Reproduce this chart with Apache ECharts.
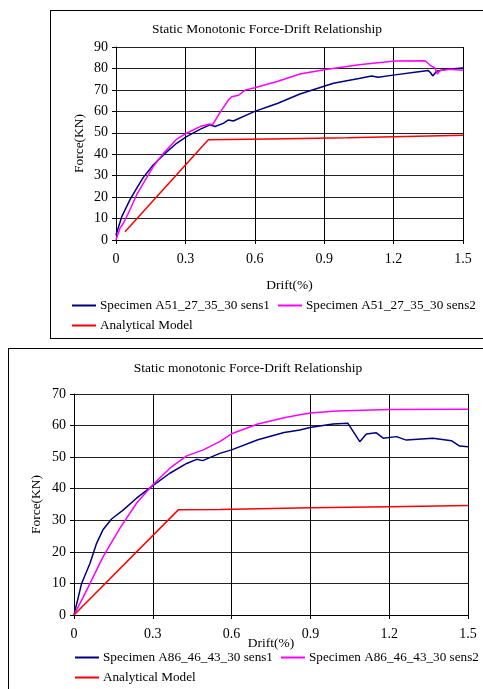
<!DOCTYPE html>
<html>
<head>
<meta charset="utf-8">
<script src="https://cdn.jsdelivr.net/npm/echarts@6/dist/echarts.min.js"></script>
<style>
  html, body { margin: 0; padding: 0; background: #fff; width: 483px; height: 689px; overflow: hidden; position: relative; }
  #chartA { position: absolute; left: 50px; top: 10px; width: 460px; height: 327px; border: 1px solid #000; }
  #chartB { position: absolute; left: 8px; top: 348px; width: 490px; height: 350px; border: 1px solid #000; }
</style>
</head>
<body>
<div id="chartA"></div>
<div id="chartB"></div>
<script>
  // ---- chart A: A51_27_35_30 ----
  const xTicks = [0, 0.3, 0.6, 0.9, 1.2, 1.5];

  const a_s1_drift = [0, 0.025, 0.06, 0.089, 0.118, 0.161, 0.205, 0.262, 0.305, 0.363, 0.406, 0.428, 0.464, 0.486, 0.507, 0.6, 0.666, 0.7, 0.795, 0.94, 1.05, 1.105, 1.134, 1.206, 1.3, 1.35, 1.36, 1.369, 1.386, 1.43, 1.5];
  const a_s1_force = [2.3, 10.9, 18.7, 24.1, 29.2, 35, 39.7, 45.1, 48.2, 51.6, 53.7, 52.9, 54.4, 56, 55.5, 60, 62.5, 63.8, 68.1, 73.1, 75.3, 76.5, 75.9, 77, 78.3, 79, 78, 76.5, 78.7, 79.6, 80.2];

  const a_s2_drift = [0, 0.017, 0.032, 0.06, 0.089, 0.118, 0.161, 0.205, 0.262, 0.305, 0.363, 0.406, 0.417, 0.45, 0.486, 0.5, 0.53, 0.56, 0.6, 0.7, 0.795, 0.9, 1.05, 1.206, 1.336, 1.357, 1.379, 1.389, 1.4, 1.444, 1.5];
  const a_s2_force = [0, 5.4, 7.8, 14, 21, 26.4, 34.2, 40.4, 47, 49.8, 52.9, 54.1, 53.7, 59.5, 65.3, 66.8, 67.5, 70, 71, 74, 77.4, 79.4, 81.7, 83.5, 83.6, 81.6, 80.1, 77.4, 79, 79.6, 79.2];

  const a_model_drift = [0.039, 0.399, 0.666, 1.0, 1.5];
  const a_model_force = [3.9, 46.7, 47.1, 47.7, 48.8];

  // ---- chart B: A86_46_43_30 ----
  const b_s1_drift = [0, 0.029, 0.061, 0.086, 0.111, 0.143, 0.188, 0.238, 0.299, 0.365, 0.429, 0.467, 0.49, 0.555, 0.6, 0.7, 0.8, 0.86, 0.898, 0.986, 1.043, 1.088, 1.113, 1.151, 1.177, 1.228, 1.265, 1.367, 1.437, 1.468, 1.5];
  const b_s1_force = [0, 10, 16.4, 22.7, 27.1, 30.4, 33.3, 37, 40.9, 44.9, 48, 49.3, 48.9, 51.2, 52.3, 55.5, 57.8, 58.6, 59.4, 60.5, 60.7, 54.9, 57.3, 57.7, 56, 56.5, 55.4, 56, 55.2, 53.5, 53.3];

  const b_s2_drift = [0, 0.036, 0.061, 0.111, 0.175, 0.238, 0.299, 0.365, 0.429, 0.492, 0.555, 0.6, 0.7, 0.8, 0.86, 0.9, 1.0, 1.202, 1.5];
  const b_s2_force = [0, 5.8, 10, 18.5, 27.5, 35.4, 41.2, 46.5, 50.4, 52.3, 54.9, 57.4, 60.5, 62.5, 63.4, 64, 64.6, 65.1, 65.2];

  const b_model_drift = [0, 0.397, 0.555, 0.9, 1.2, 1.5];
  const b_model_force = [0, 33.3, 33.4, 34, 34.3, 34.7];

  const FONT = 'Liberation Serif';
  const BLUE = '#000080', PINK = '#ff00ff', RED = '#ff0000';
  const LINE_ICON = 'path://M0,0 L24,0 L24,2 L0,2 Z';

  function pairs(xs, ys) {
    return xs.map((x, i) => [x, ys[i]]);
  }

  function build(cfg) {
    const lineSeries = (name, xs, ys, color) => ({
      name: name,
      type: 'line',
      symbol: 'none',
      smooth: false,
      data: pairs(xs, ys),
      lineStyle: { color: color, width: 1.5 },
      itemStyle: { color: color },
      animation: false
    });
    const legendText = { fontFamily: FONT, fontSize: 13.2, color: '#000', padding: [0, 0, 0, -1] };
    return {
      animation: false,
      backgroundColor: '#fff',
      title: {
        text: cfg.title,
        left: cfg.titleX,
        top: cfg.titleY,
        textAlign: 'center',
        padding: 0,
        textStyle: { fontFamily: FONT, fontSize: 13.5, fontWeight: 'normal', color: '#000' }
      },
      grid: cfg.grid,
      xAxis: {
        type: 'value',
        min: 0, max: 1.5, interval: 0.3,
        name: 'Drift(%)',
        nameLocation: 'middle',
        nameGap: cfg.xNameGap,
        nameMoveOverlap: false,
        nameTextStyle: { fontFamily: FONT, fontSize: 13.5, color: '#000' },
        axisLine: { show: true, onZero: false, lineStyle: { color: '#000', width: 1 } },
        axisTick: { show: true, inside: false, length: 4, lineStyle: { color: '#000' } },
        axisLabel: {
          margin: 12,
          fontFamily: FONT, fontSize: 14, color: '#000',
          formatter: v => String(+v.toFixed(1))
        },
        splitLine: { show: true, lineStyle: { color: '#000', width: 1 } }
      },
      yAxis: {
        type: 'value',
        min: 0, max: cfg.yMax, interval: 10,
        name: 'Force(KN)',
        nameLocation: 'middle',
        nameGap: cfg.yNameGap,
        nameMoveOverlap: false,
        nameTextStyle: { fontFamily: FONT, fontSize: 13.5, color: '#000' },
        axisLine: { show: true, lineStyle: { color: '#000', width: 1 } },
        axisTick: { show: true, inside: false, length: 4, lineStyle: { color: '#000' } },
        axisLabel: { margin: 8, fontFamily: FONT, fontSize: 14, color: '#000' },
        splitLine: { show: true, lineStyle: { color: '#222', width: 1 } }
      },
      legend: [
        {
          data: [cfg.names[0], cfg.names[1]],
          left: cfg.legendX, top: cfg.legendY1,
          orient: 'horizontal', padding: 0, itemGap: 8,
          icon: LINE_ICON, itemWidth: 24, itemHeight: 2,
          textStyle: legendText
        },
        {
          data: [cfg.names[2]],
          left: cfg.legendX, top: cfg.legendY2,
          orient: 'horizontal', padding: 0,
          icon: LINE_ICON, itemWidth: 24, itemHeight: 2,
          textStyle: legendText
        }
      ],
      series: [
        lineSeries(cfg.names[0], cfg.s1[0], cfg.s1[1], BLUE),
        lineSeries(cfg.names[1], cfg.s2[0], cfg.s2[1], PINK),
        lineSeries(cfg.names[2], cfg.m[0], cfg.m[1], RED)
      ]
    };
  }

  const chartA = echarts.init(document.getElementById('chartA'));
  chartA.setOption(build({
    title: 'Static Monotonic Force-Drift Relationship',
    titleX: 216, titleY: 11,
    grid: { left: 65, top: 36, width: 347, height: 193 },
    yMax: 90,
    xNameGap: 38, yNameGap: 30,
    legendX: 21, legendY1: 288, legendY2: 308,
    names: ['Specimen A51_27_35_30 sens1', 'Specimen A51_27_35_30 sens2', 'Analytical Model'],
    s1: [a_s1_drift, a_s1_force],
    s2: [a_s2_drift, a_s2_force],
    m: [a_model_drift, a_model_force]
  }));

  const chartB = echarts.init(document.getElementById('chartB'));
  chartB.setOption(build({
    title: 'Static monotonic Force-Drift Relationship',
    titleX: 239, titleY: 12,
    grid: { left: 65, top: 45, width: 394, height: 221 },
    yMax: 70,
    xNameGap: 21, yNameGap: 31,
    legendX: 66, legendY1: 302, legendY2: 322,
    names: ['Specimen A86_46_43_30 sens1', 'Specimen A86_46_43_30 sens2', 'Analytical Model'],
    s1: [b_s1_drift, b_s1_force],
    s2: [b_s2_drift, b_s2_force],
    m: [b_model_drift, b_model_force]
  }));
</script>
</body>
</html>
